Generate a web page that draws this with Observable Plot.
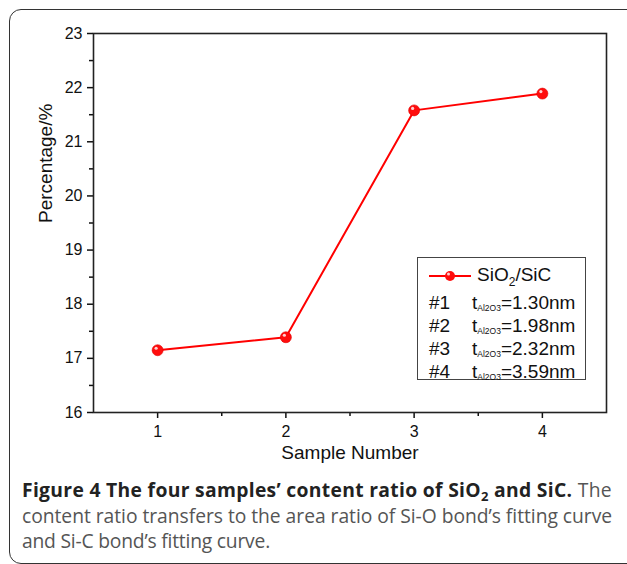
<!DOCTYPE html>
<html>
<head>
<meta charset="utf-8">
<script src="https://cdn.jsdelivr.net/npm/d3@7"></script>
<script src="https://cdn.jsdelivr.net/npm/@observablehq/plot@0.6"></script>
<style>
  html, body { margin: 0; padding: 0; background: #fff; }
  #page { position: relative; width: 627px; height: 564px; overflow: hidden; }
  #border { position: absolute; left: 9px; top: 9px; width: 640px; height: 553px;
    border: 1.3px solid #333; border-radius: 12px; }
  #chart { position: absolute; left: 0; top: 0; }
  #legend { position: absolute; left: 417px; top: 257px; width: 167px; height: 121px;
    border: 1px solid #444; background: #fff; font-family: "Liberation Sans", Arial, sans-serif;
    font-size: 19px; line-height: 19px; color: #111; }
  .cell { position: absolute; white-space: nowrap; }
  .cell sub.al { font-size: 8.5px; vertical-align: -2px; line-height: 0; }
  #caption { position: absolute; left: 22px; top: 477px; white-space: nowrap;
    font-family: "Open Sans", sans-serif; font-size: 19.3px; line-height: 25.5px; color: #555; }
  #caption b { color: #222; font-weight: 700; }
  #caption sub { font-size: 13px; vertical-align: -4px; line-height: 0; }
</style>
</head>
<body>
<div id="page">
  <div id="border"></div>
  <div id="chart"></div>
  <div id="legend"></div>
  <div id="caption"><span id="l1"><b>Figure 4 The four samples’ content ratio of SiO<sub>2</sub> and SiC.</b> The</span><br><span id="l2">content ratio transfers to the area ratio of Si-O bond’s fitting curve</span><br><span id="l3">and Si-C bond’s fitting curve.</span></div>
</div>
<script>
const samples = [1, 2, 3, 4];
const ratio = [17.15, 17.39, 21.58, 21.89];
const legendIds = ["#1", "#2", "#3", "#4"];
const thickness = ["1.30", "1.98", "2.32", "3.59"];
const yTicks = [16, 17, 18, 19, 20, 21, 22, 23];
const yMinor = [16.5, 17.5, 18.5, 19.5, 20.5, 21.5, 22.5];
const xTicks = [1, 2, 3, 4];
const xMinor = [1.5, 2.5, 3.5];

const data = samples.map((s, i) => ({sample: s, value: ratio[i]}));
const font = "Liberation Sans, Arial, sans-serif";

const plot = Plot.plot({
  width: 627,
  height: 470,
  marginLeft: 93,
  marginRight: 21,
  marginTop: 33,
  marginBottom: 58,
  style: {fontFamily: font, fontSize: "16px", color: "#111", background: "transparent"},
  x: {domain: [0.5, 4.5]},
  y: {domain: [16, 23]},
  marks: [
    Plot.axisX({ticks: xTicks, tickSize: 6, tickPadding: 7, tickFormat: d => String(d),
      strokeWidth: 1.5, label: null}),
    Plot.axisX({ticks: xMinor, tickSize: 4, text: null, strokeWidth: 1.5, label: null}),
    Plot.axisY({ticks: yTicks, tickSize: 6, tickPadding: 5, tickFormat: d => String(d),
      strokeWidth: 1.5, label: null}),
    Plot.axisY({ticks: yMinor, tickSize: 4, text: null, strokeWidth: 1.5, label: null}),
    Plot.text(["Sample Number"], {frameAnchor: "bottom", dy: 46, fontSize: 19, fill: "#111"}),
    Plot.text(["Percentage/%"], {frameAnchor: "left", dx: -48, rotate: -90, fontSize: 19, fill: "#111"}),
    Plot.frame({stroke: "#222", strokeWidth: 1.6}),
    Plot.line(data, {x: "sample", y: "value", stroke: "#ff0000", strokeWidth: 2}),
    Plot.dot(data, {x: "sample", y: "value", r: 5.5, fill: "#ff0d0d", stroke: "#e00000", strokeWidth: 0.6}),
    Plot.dot(data, {x: "sample", y: "value", r: 1.6, fill: "#ffd0d0", dx: -1.5, dy: -2})
  ]
});
// enlarge numeric tick labels
d3.select(plot).selectAll("text").filter(function() { return /^\d+$/.test(this.textContent); })
  .style("font-size", "16px");
document.getElementById("chart").appendChild(plot);

// legend (HTML overlay)
const legend = document.getElementById("legend");
function cell(left, top, html) {
  const d = document.createElement("div");
  d.className = "cell";
  d.style.left = left + "px";
  d.style.top = top + "px";
  d.innerHTML = html;
  legend.appendChild(d);
}
const rowCenters = [16, 44, 67, 90, 113];
cell(11, rowCenters[0] - 7, `<svg width="44" height="14">
  <line x1="0" y1="7" x2="42" y2="7" stroke="#ff0000" stroke-width="2"/>
  <circle cx="21" cy="7" r="5" fill="#ff0d0d"/>
  <circle cx="19.5" cy="5" r="1.5" fill="#ffd0d0"/></svg>`);
cell(59, rowCenters[0] - 9.3, `SiO<sub style="font-size:12px;vertical-align:-5px;line-height:0">2</sub>/SiC`);
legendIds.forEach((id, i) => {
  const c = rowCenters[i + 1] - 9.3;
  cell(11, c, id);
  cell(54, c, `t<sub class="al">Al2O3</sub>=${thickness[i]}nm`);
});

// fit caption lines to the reference widths
const fit = {l1: 590, l2: 590, l3: 248};
for (const [id, w] of Object.entries(fit)) {
  const el = document.getElementById(id);
  const cur = el.getBoundingClientRect().width;
  const n = el.textContent.length;
  el.style.letterSpacing = ((w - cur) / n).toFixed(3) + "px";
}
</script>
</body>
</html>
